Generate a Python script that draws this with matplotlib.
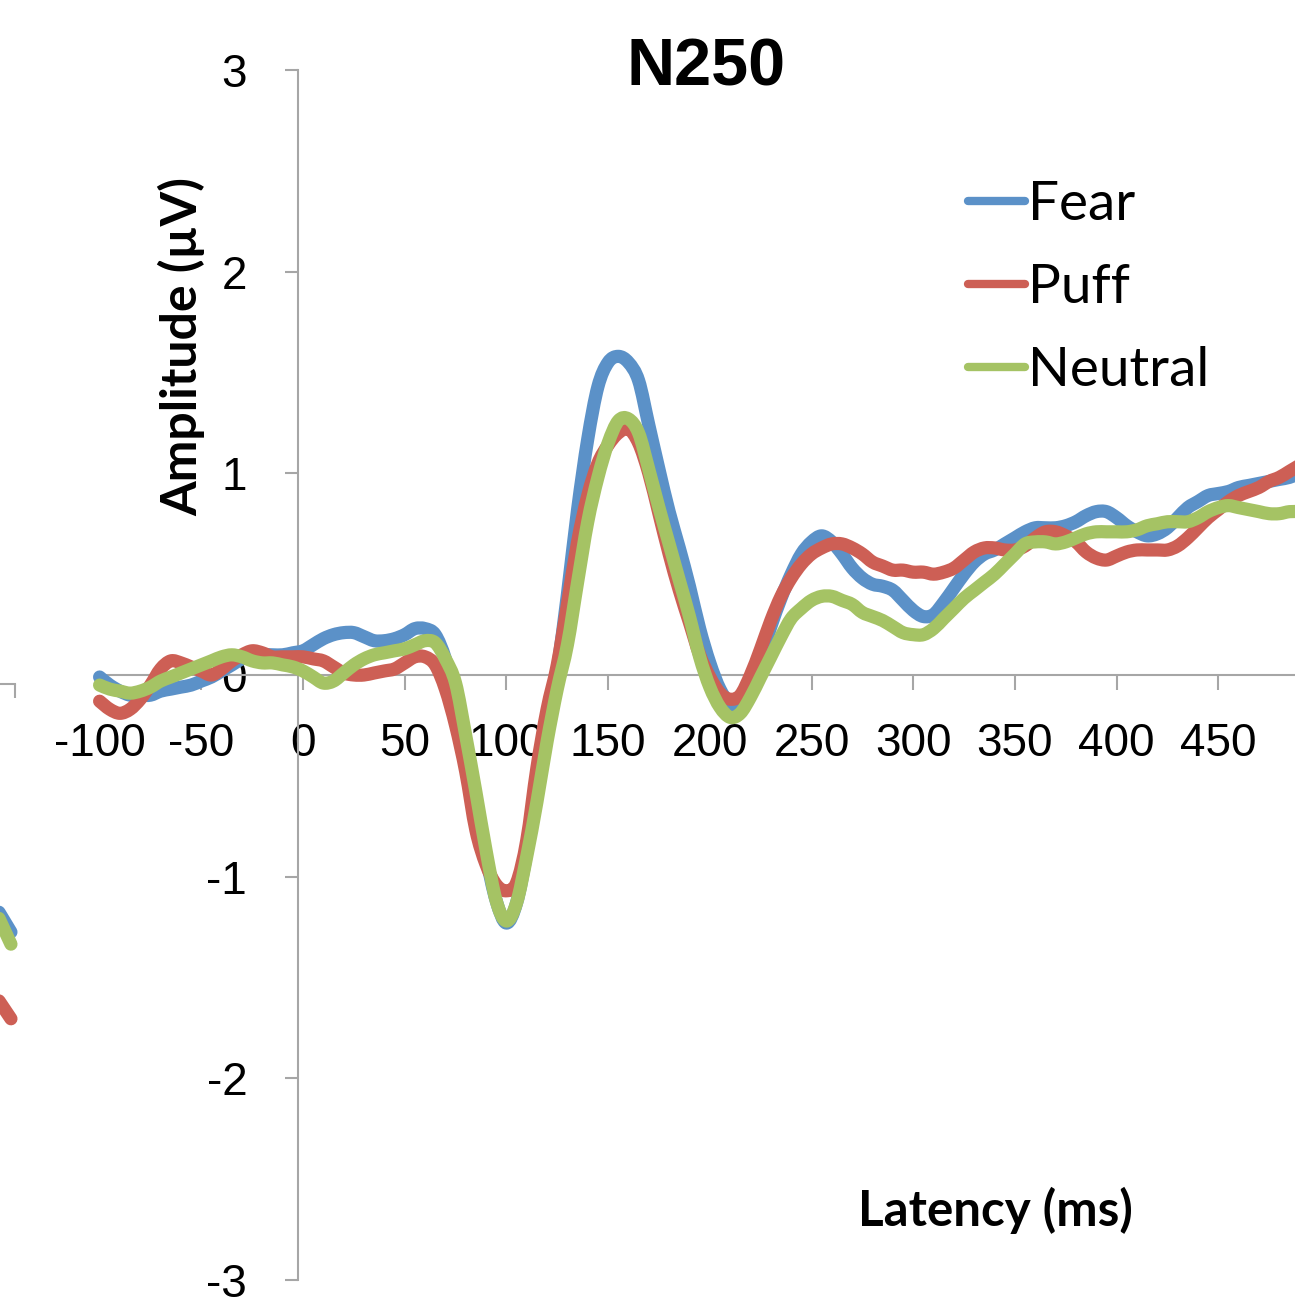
import numpy as np
import matplotlib
matplotlib.use('Agg')
import matplotlib.pyplot as plt
from matplotlib.path import Path
from matplotlib.patches import PathPatch
from matplotlib.lines import Line2D

plt.rcParams['axes.unicode_minus'] = False

# Latencia (ms), pasos de 5 ms
latency = np.arange(-100, 495, 5)

fear = [-0.01, -0.05, -0.08, -0.10, -0.10, -0.10, -0.08, -0.07, -0.06, -0.05,
        -0.03, -0.01, 0.02, 0.05, 0.08, 0.09, 0.10, 0.10, 0.10, 0.11,
        0.12, 0.15, 0.18, 0.20, 0.21, 0.21, 0.19, 0.17, 0.17, 0.18,
        0.20, 0.23, 0.23, 0.20, 0.08, -0.12, -0.37, -0.62, -0.90, -1.12,
        -1.23, -1.13, -0.88, -0.55, -0.30, 0.02, 0.40, 0.82, 1.17, 1.43,
        1.55, 1.58, 1.55, 1.46, 1.24, 1.02, 0.81, 0.63, 0.44, 0.23,
        0.06, -0.07, -0.14, -0.14, -0.05, 0.08, 0.24, 0.38, 0.50, 0.60,
        0.66, 0.69, 0.66, 0.60, 0.53, 0.48, 0.45, 0.44, 0.42, 0.37,
        0.32, 0.29, 0.30, 0.36, 0.43, 0.50, 0.56, 0.60, 0.62, 0.65,
        0.68, 0.71, 0.73, 0.73, 0.73, 0.74, 0.76, 0.79, 0.81, 0.81,
        0.78, 0.74, 0.71, 0.69, 0.70, 0.73, 0.78, 0.83, 0.86, 0.89,
        0.90, 0.91, 0.93, 0.94, 0.95, 0.96, 0.97, 0.98, 1.00]

puff = [-0.13, -0.17, -0.19, -0.17, -0.12, -0.05, 0.03, 0.07, 0.06, 0.04,
        0.02, 0.00, 0.03, 0.07, 0.10, 0.12, 0.11, 0.09, 0.09, 0.09,
        0.09, 0.08, 0.07, 0.04, 0.01, 0.00, 0.00, 0.01, 0.02, 0.03,
        0.06, 0.09, 0.09, 0.05, -0.07, -0.25, -0.48, -0.77, -0.94, -1.04,
        -1.07, -1.03, -0.82, -0.46, -0.17, 0.05, 0.35, 0.66, 0.89, 1.05,
        1.14, 1.20, 1.22, 1.15, 1.00, 0.80, 0.60, 0.42, 0.26, 0.10,
        -0.01, -0.09, -0.12, -0.10, 0.00, 0.13, 0.27, 0.39, 0.48, 0.55,
        0.60, 0.63, 0.65, 0.65, 0.63, 0.60, 0.56, 0.54, 0.52, 0.52,
        0.51, 0.51, 0.50, 0.51, 0.53, 0.57, 0.61, 0.63, 0.63, 0.62,
        0.62, 0.64, 0.68, 0.71, 0.71, 0.69, 0.66, 0.61, 0.58, 0.57,
        0.59, 0.61, 0.62, 0.62, 0.62, 0.62, 0.64, 0.68, 0.73, 0.78,
        0.82, 0.86, 0.89, 0.91, 0.93, 0.96, 0.98, 1.01, 1.04]

neutral = [-0.05, -0.07, -0.08, -0.09, -0.08, -0.06, -0.03, -0.01, 0.01, 0.03,
           0.05, 0.07, 0.09, 0.10, 0.09, 0.07, 0.06, 0.06, 0.05, 0.04,
           0.02, -0.01, -0.04, -0.03, 0.01, 0.05, 0.08, 0.10, 0.11, 0.12,
           0.13, 0.15, 0.17, 0.16, 0.08, -0.04, -0.30, -0.58, -0.87, -1.12,
           -1.22, -1.13, -0.90, -0.63, -0.33, -0.07, 0.15, 0.46, 0.76, 0.98,
           1.15, 1.26, 1.27, 1.20, 1.02, 0.83, 0.65, 0.47, 0.29, 0.09,
           -0.06, -0.16, -0.21, -0.19, -0.11, -0.01, 0.09, 0.19, 0.28, 0.33,
           0.37, 0.39, 0.39, 0.37, 0.35, 0.31, 0.29, 0.27, 0.24, 0.21,
           0.20, 0.20, 0.23, 0.28, 0.33, 0.38, 0.42, 0.46, 0.50, 0.55,
           0.60, 0.65, 0.66, 0.66, 0.65, 0.66, 0.68, 0.70, 0.71, 0.71,
           0.71, 0.71, 0.72, 0.74, 0.75, 0.76, 0.76, 0.76, 0.78, 0.81,
           0.83, 0.84, 0.83, 0.82, 0.81, 0.80, 0.80, 0.81, 0.81]

# Cola del gráfico vecino (recortado a la izquierda)
prev_latency = [482, 488]
prev_fear = [-1.13, -1.23]
prev_puff = [-1.57, -1.66]
prev_neutral = [-1.16, -1.29]

colores = {'Fear': '#5B91C8', 'Puff': '#CD5F55', 'Neutral': '#A5C364'}
gris = '#A6A6A6'


def linea_suave(ax, x, y, color, lw):
    # línea suavizada estilo Excel: curvas Bezier que pasan por cada punto
    p = np.column_stack([x, y]).astype(float)
    ext = np.vstack([p[0], p, p[-1]])
    verts = [p[0]]
    codes = [Path.MOVETO]
    for i in range(len(p) - 1):
        c1 = ext[i + 1] + (ext[i + 2] - ext[i]) / 6
        c2 = ext[i + 2] - (ext[i + 3] - ext[i + 1]) / 6
        verts += [c1, c2, p[i + 1]]
        codes += [Path.CURVE4] * 3
    patch = PathPatch(Path(verts, codes), fill=False, edgecolor=color, lw=lw,
                      capstyle='round', joinstyle='round', zorder=3)
    ax.add_patch(patch)
    return patch


W, H = 1295, 1314
fig = plt.figure(figsize=(W / 100, H / 100), dpi=100)

# eje principal: 0 ms en x=303 px, 2.034 px/ms; y: 3 en 70 px, -3 en 1280 px
ax = fig.add_axes([0, (H - 1280) / H, 1, 1210 / H])

for nombre, serie in [('Fear', fear), ('Puff', puff), ('Neutral', neutral)]:
    linea_suave(ax, latency, serie, colores[nombre], 9.5)

ax.set_xlim(-303 / 2.034, 992 / 2.034)
ax.set_ylim(-3, 3)

for s in ['top', 'right']:
    ax.spines[s].set_visible(False)
ax.spines['left'].set_position(('data', -2.5))
ax.spines['bottom'].set_position(('data', 0))
ax.spines['bottom'].set_bounds(-100, 500)
for s in ['left', 'bottom']:
    ax.spines[s].set_color(gris)
    ax.spines[s].set_linewidth(1.5)

ax.set_xticks(np.arange(-100, 500, 50))
ax.set_yticks(np.arange(-3, 4, 1))
ax.tick_params(axis='x', direction='out', length=11, width=1.5, color=gris,
               pad=23, labelsize=33)
ax.tick_params(axis='y', direction='out', length=9.5, width=1.5, color=gris,
               pad=27, labelsize=33)
for lab in ax.get_xticklabels() + ax.get_yticklabels():
    lab.set_family('Liberation Sans')

handles = [Line2D([], [], color=colores[n], lw=6, solid_capstyle='round')
           for n in ['Fear', 'Puff', 'Neutral']]
ax.legend(handles, ['Fear', 'Puff', 'Neutral'], loc='upper left',
          bbox_to_anchor=(968 / W, 1 - (180 - 70) / 1210),
          frameon=False, prop={'family': 'Lato', 'size': 39.5},
          handlelength=1.04, handletextpad=0.06, labelspacing=0.62,
          borderpad=0, borderaxespad=0)

fig.text(706 / W, 1 - 69 / H, 'N250', ha='center', va='center',
         fontsize=48, fontweight='bold', family='Liberation Sans')
fig.text(995 / W, 1 - 1210 / H, 'Latency (ms)', ha='center', va='center',
         fontsize=35.5, fontweight='bold', family='Lato')
fig.text(182 / W, 1 - 346 / H, 'Amplitude (µV)', ha='center', va='center',
         rotation=90, fontsize=36, fontweight='bold', family='Lato')

# fragmento del gráfico vecino
ax2 = fig.add_axes([0, (H - 1289) / H, 15 / W, 1210 / H])
ax2.set_xlim(482.6, 490)
ax2.set_ylim(-3, 3)
ax2.patch.set_visible(False)
for s in ['top', 'right', 'left']:
    ax2.spines[s].set_visible(False)
ax2.spines['bottom'].set_position(('data', 0))
ax2.spines['bottom'].set_color(gris)
ax2.spines['bottom'].set_linewidth(1.5)
ax2.set_xticks([490])
ax2.set_xticklabels([''])
ax2.set_yticks([])
ax2.tick_params(axis='x', direction='out', length=10, width=1.5, color=gris)
for nombre, serie in [('Fear', prev_fear), ('Puff', prev_puff), ('Neutral', prev_neutral)]:
    ax2.plot(prev_latency, serie, color=colores[nombre], lw=9.5,
             solid_capstyle='round', clip_on=False, zorder=3)

fig.savefig('out.png', dpi=100)
